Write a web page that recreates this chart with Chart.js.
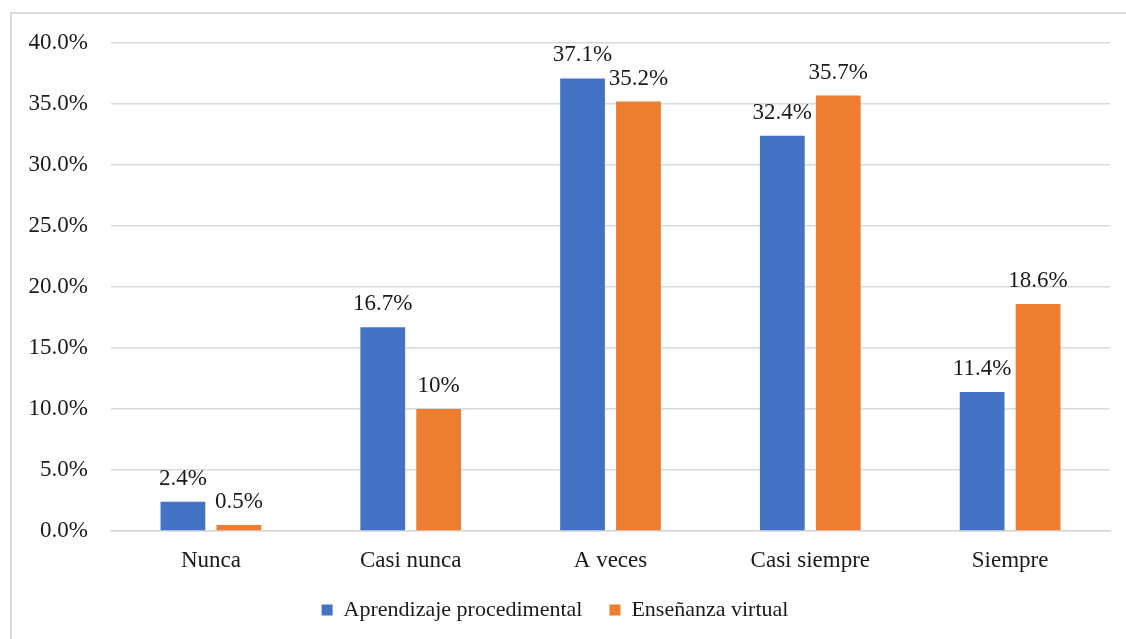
<!DOCTYPE html>
<html>
<head>
<meta charset="utf-8">
<script src="https://cdn.jsdelivr.net/npm/chart.js@4/dist/chart.umd.min.js"></script>
<style>
    html, body { margin: 0; padding: 0; overflow: hidden; background: #fff; }
    #frame { position: absolute; left: 10px; top: 12px; width: 1200px; height: 700px; border: 2px solid #d9d9d9; }
    #wrap { position: absolute; left: 0; top: 0; width: 1126px; height: 639px; }
</style>
</head>
<body>
<div id="frame"></div>
<div id="wrap"><canvas id="chart"></canvas></div>
<script>
// Categories and series
var categories = ['Nunca', 'Casi nunca', 'A veces', 'Casi siempre', 'Siempre'];
var procedimental = [2.4, 16.7, 37.1, 32.4, 11.4];
var virtual = [0.5, 10, 35.2, 35.7, 18.6];
var procedimentalLabels = ['2.4%', '16.7%', '37.1%', '32.4%', '11.4%'];
var virtualLabels = ['0.5%', '10%', '35.2%', '35.7%', '18.6%'];

var fontFamily = '"Liberation Serif", "Times New Roman", serif';
var fontSize = 23;

// Draw the value labels above each bar, nudging apart labels that collide
var valueLabels = {
    id: 'valueLabels',
    afterDatasetsDraw: function(chart) {
        var ctx = chart.ctx;
        ctx.save();
        ctx.font = fontSize + 'px ' + fontFamily;
        ctx.fillStyle = '#1a1a1a';
        ctx.textAlign = 'center';
        ctx.textBaseline = 'middle';
        var m0 = chart.getDatasetMeta(0), m1 = chart.getDatasetMeta(1);
        var d0 = chart.data.datasets[0], d1 = chart.data.datasets[1];
        categories.forEach(function(c, j) {
            var a = m0.data[j], b = m1.data[j];
            var ta = d0.valueText[j], tb = d1.valueText[j];
            var xa = a.x, xb = b.x, ya = a.y - 23, yb = b.y - 23;
            var wa = ctx.measureText(ta).width, wb = ctx.measureText(tb).width;
            if (Math.abs(ya - yb) < fontSize) {
                var gap = (xb - wb / 2) - (xa + wa / 2);
                if (gap < 8) {
                    var push = (8 - gap) / 2;
                    xa -= push;
                    xb += push;
                }
            }
            ctx.fillText(ta, xa, ya);
            ctx.fillText(tb, xb, yb);
        });
        ctx.restore();
    }
};

var ctx = document.getElementById('chart').getContext('2d');
var chart = new Chart(ctx, {
    type: 'bar',
    data: {
        labels: categories,
        datasets: [{
            label: 'Aprendizaje procedimental',
            data: procedimental,
            valueText: procedimentalLabels,
            backgroundColor: '#4472C4',
            categoryPercentage: 0.56,
            barPercentage: 0.8
        }, {
            label: 'Enseñanza virtual',
            data: virtual,
            valueText: virtualLabels,
            backgroundColor: '#ED7D31',
            categoryPercentage: 0.56,
            barPercentage: 0.8
        }]
    },
    options: {
        responsive: true,
        maintainAspectRatio: false,
        animation: false,
        layout: {
            padding: { left: 0, right: 16, top: 43, bottom: 8 }
        },
        plugins: {
            legend: {
                position: 'bottom',
                labels: {
                    font: { family: fontFamily, size: 22 },
                    color: '#1a1a1a',
                    boxWidth: 11,
                    boxHeight: 11,
                    padding: 27
                }
            },
            tooltip: { enabled: false }
        },
        scales: {
            x: {
                grid: { display: false, drawTicks: false },
                border: { color: '#d9d9d9', width: 1.5 },
                ticks: {
                    font: { family: fontFamily, size: fontSize },
                    color: '#1a1a1a',
                    padding: 16
                },
                afterFit: function(scale) { scale.height = 41; }
            },
            y: {
                min: 0,
                max: 40,
                grid: { color: '#d9d9d9', lineWidth: 1.5, drawTicks: false },
                border: { display: false },
                ticks: {
                    stepSize: 5,
                    font: { family: fontFamily, size: fontSize },
                    color: '#1a1a1a',
                    padding: 23,
                    callback: function(v) { return v.toFixed(1) + '%'; }
                },
                afterFit: function(scale) { scale.width = 111; }
            }
        }
    },
    plugins: [valueLabels]
});
</script>
</body>
</html>
